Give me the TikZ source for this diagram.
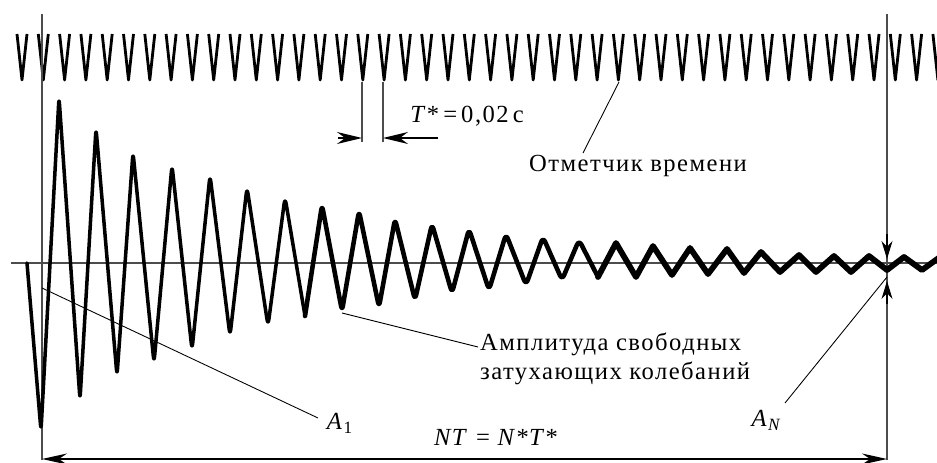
\documentclass[tikz,border=0pt]{standalone}
\usepackage{fontspec}
\setmainfont{Liberation Serif}
\usetikzlibrary{arrows.meta, positioning, calc}

\begin{document}
\begin{tikzpicture}[
  x=0.2mm, y=-0.2mm,
  txt/.style={font=\fontsize{14}{16.5}\selectfont\addfontfeatures{LetterSpace=6}, inner sep=1pt},
  guide/.style={line width=0.7pt, black!70},
  leader/.style={line width=0.5pt},
  tick/.style={line width=1.6pt, line join=round},
  wave/.style={line join=round, line cap=round},
  dimhead/.style={-{Stealth[length=5mm, width=2.4mm]}, line width=0.8pt},
  dimboth/.style={{Stealth[length=5mm, width=2.2mm]}-{Stealth[length=5mm, width=2.2mm]}, line width=0.9pt},
  amphead/.style={-{Stealth[length=3.6mm, width=2.2mm]}, line width=0.6pt},
]
\useasboundingbox (0,0) rectangle (937,463);

% --- time marker: one V every T* ---
\foreach \k in {0,...,43}
  \draw[tick] ({22+21.3*\k-5},34) -- ({22+21.3*\k},80) -- ({22+21.3*\k+5},34);

% --- reference lines ---
\coordinate (lt) at (42,14);
\coordinate (lb) at (42,460);
\coordinate (rt) at (887,14);
\coordinate (rb) at (887,460);
\coordinate (b0) at (11,263);
\coordinate (b1) at (937,263);
\draw[guide] (lt) -- (lb);
\draw[guide] (rt) -- (rb);
\draw[guide, line width=0.9pt] (b0) -- (b1);

% --- free damped oscillation ---
\draw[wave, line width=2pt, rounded corners=4pt] plot coordinates {
  (27,263) (41,431) (59,97) (80,400) (96,128) (117,376) (133,152) (154,363)
  (172,165) (192,350) (210,175) (230,336) (247,187) (268,326) (285,197) (305,316)};
\draw[wave, line width=2.6pt, rounded corners=3pt] plot coordinates {
  (305,316) (322,205) (342,311) (359,211) (379,307) (395,219) (415,300)
  (432,224) (452,293) (469,229) (489,290) (506,234) (526,285) (543,237)
  (562,280) (579,240) (598,277)};
\draw[wave, line width=3.3pt] plot coordinates {
  (598,277) (616,243) (636,277) (653,246) (672,275) (690,248) (708,274)
  (727,249) (744,273) (761,252) (780,272) (799,255) (816,272) (834,256)
  (851,272) (869,256) (887,270) (904,257) (922,270) (940,257)};

% --- period of the time marker ---
\coordinate (ta) at (362,82);
\coordinate (tb) at (383,82);
\coordinate (tl) at (362,138);
\coordinate (tr) at (383,138);
\coordinate (tl0) at (338,138);
\coordinate (tr0) at (438,138);
\draw[guide, line width=0.6pt] (ta) -- ($(tl)+(0,4)$);
\draw[guide, line width=0.6pt] (tb) -- ($(tr)+(0,4)$);
\draw[dimhead] (tl0) -- (tl);
\draw[dimhead] (tr0) -- (tr);
\node[txt] (tstar) at (467,116) {\textit{T}*\,=\,0,02\,c};

% --- labels and leaders ---
\node[txt, anchor=west] (marker) at (527,166) {Отметчик времени};
\coordinate (mk0) at (583,153);
\coordinate (mk1) at (619,82);
\draw[leader] (mk0) -- (mk1);

\node[txt, anchor=north west, align=left] (ampl) at (478,331)
  {Амплитуда свободных\\затухающих колебаний};
\coordinate (am0) at (342,313);
\coordinate (am1) at (478,347);
\draw[leader] (am0) -- (am1);

\node[txt] (a1) at (340,423) {\textit{A}\textsubscript{1}};
\coordinate (a10) at (318,418);
\coordinate (a11) at (42,288);
\draw[leader] (a10) -- (a11);

\node[txt] (an) at (767,420) {\textit{A}\textsubscript{\textit{N}}};
\coordinate (an0) at (785,403);
\coordinate (an1) at (887,277);
\draw[leader] (an0) -- (an1);

% --- amplitude A_N between the arrows ---
\coordinate (au0) at (887,234);
\coordinate (au1) at (887,259);
\coordinate (ad0) at (887,304);
\coordinate (ad1) at (887,281);
\draw[amphead] (au0) -- (au1);
\draw[amphead] (ad0) -- (ad1);

% --- total time NT ---
\coordinate (n0) at (42,459);
\coordinate (n1) at (887,459);
\draw[dimboth] (n0) -- (n1);
\node[txt] (nt) at (496,437) {\textit{NT} = \textit{N}*\textit{T}*};

\end{tikzpicture}
\end{document}
